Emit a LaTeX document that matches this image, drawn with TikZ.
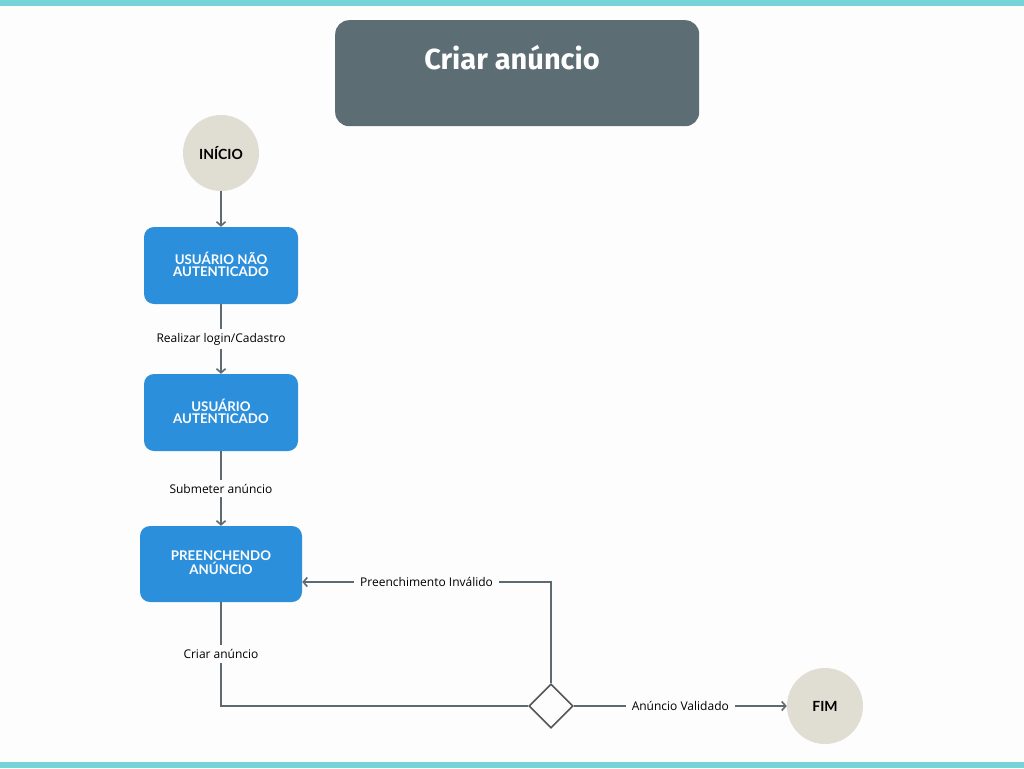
\documentclass[tikz,border=0pt]{standalone}
\usepackage{fontspec}
\setmainfont{Open Sans}
\newfontfamily\boxfont{Lato}
\newfontfamily\titlefont{Fira Sans}
\usetikzlibrary{arrows.meta,shapes.geometric,positioning}
\definecolor{bg}{HTML}{FDFDFD}
\definecolor{teal}{HTML}{76D3D7}
\definecolor{slate}{HTML}{5D6D74}
\definecolor{sand}{HTML}{E0DED2}
\definecolor{bluebox}{HTML}{2B8FDB}
\definecolor{linec}{HTML}{5D6A72}
\definecolor{dia}{HTML}{555555}
\tikzset{
  titlebox/.style={draw=none,fill=slate,rounded corners=14pt,minimum width=364pt,minimum height=106pt,anchor=north west,inner sep=0pt},
  statebox/.style={fill=bluebox,rounded corners=10pt,minimum width=154pt,minimum height=77pt,text=white,align=center,font=\boxfont\fontsize{13.3}{13}\selectfont\bfseries,inner sep=0pt},
  terminal/.style={circle,fill=sand,minimum size=76pt,inner sep=0pt,font=\boxfont\fontsize{14}{16}\selectfont\bfseries,text=black},
  decision/.style={diamond,draw=dia,line width=1.6pt,fill=bg,minimum width=44pt,minimum height=44pt,inner sep=0pt},
  conn/.style={draw=linec,line width=1.6pt,-{Straight Barb[length=4pt,width=9pt,line width=1.6pt]}},
  plain/.style={draw=linec,line width=1.6pt},
  lbl/.style={fill=bg,text=black,font=\fontsize{12}{13}\selectfont,inner xsep=6pt,inner ysep=4pt}
}
\begin{document}
\begin{tikzpicture}[x=1pt,y=-1pt]
\fill[bg] (0,0) rectangle (1024,768);
\useasboundingbox (0,0) rectangle (1024,768);
\fill[teal] (0,0) rectangle (1024,6);
\fill[teal] (0,762) rectangle (1024,768);

\node[titlebox] (title) at (335,20) {};
\node[text=white,font=\titlefont\fontsize{29}{34}\selectfont\bfseries] (titletext) at (512,58) {Criar anúncio};

\node[terminal] (inicio) at (221,153) {INÍCIO};
\node[statebox] (b1) at (221,265.5) {\raisebox{2.5pt}{\shortstack{USUÁRIO NÃO\\[-1pt]AUTENTICADO}}};
\node[statebox] (b2) at (221,412.5) {\raisebox{2.5pt}{\shortstack{USUÁRIO\\[-1pt]AUTENTICADO}}};
\node[statebox,minimum width=162pt,minimum height=76pt] (b3) at (221,564) {\raisebox{2.5pt}{\shortstack{PREENCHENDO\\[-1pt]ANÚNCIO}}};
\node[decision] (d) at (551,706) {};
\node[terminal] (fim) at (825,706) {FIM};

\draw[conn] (inicio) -- (b1);
\draw[conn] (b1) -- node[lbl] {Realizar login/Cadastro} (b2);
\draw[conn] (b2) -- node[lbl] {Submeter anúncio} (b3);
\draw[plain] (b3.south) |- node[lbl,pos=0.25] {Criar anúncio} (d.west);
\draw[conn] (d.north) |- node[lbl,pos=0.75] {Preenchimento Inválido} ([yshift=-18pt]b3.east);
\draw[conn] (d.east) -- node[lbl] {Anúncio Validado} (fim.west);
\end{tikzpicture}
\end{document}
